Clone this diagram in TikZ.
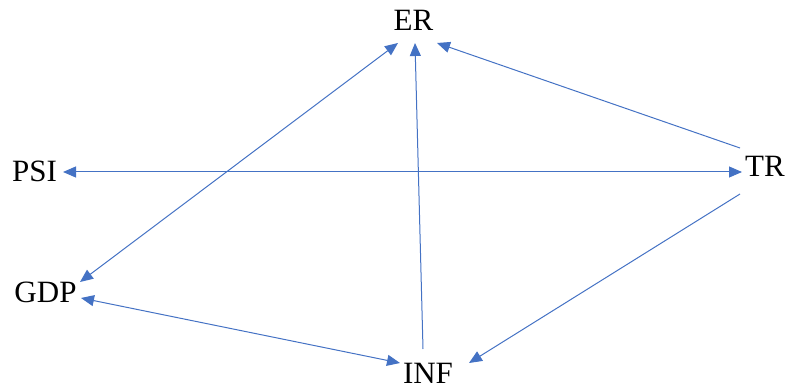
\documentclass[tikz,border=0pt]{standalone}
\usepackage{fontspec}
\setmainfont{Liberation Serif}
\usetikzlibrary{arrows.meta,calc}
\definecolor{edgeblue}{HTML}{4472C4}
\begin{document}
\begin{tikzpicture}[x=1pt,y=-1pt,
  lbl/.style={inner sep=0pt,anchor=base,font=\fontsize{31}{31}\selectfont},
  conn/.style={draw=edgeblue,line width=1pt,-{Triangle[length=13pt,width=11pt]}},
  dconn/.style={draw=edgeblue,line width=1pt,{Triangle[length=13pt,width=11pt]}-{Triangle[length=13pt,width=11pt]}}]
\useasboundingbox (0,0) rectangle (787,387);
\node[lbl] (ER) at (413.5,31) {ER};
\node[lbl] (PSI) at (34.5,182) {PSI};
\node[lbl] (GDP) at (45.5,302) {GDP};
\node[lbl] (INF) at (428,383) {INF};
\node[lbl] (TR) at (765,177) {TR};
\draw[dconn] ($(GDP.base)+(34.5,-20)$) -- ($(ER.base)+(-15.5,12)$);
\draw[conn] ($(INF.base)+(-5,-34)$) -- ($(ER.base)+(1.5,12)$);
\draw[conn] ($(TR.base)+(-25,-29)$) -- ($(ER.base)+(23.5,12)$);
\draw[dconn] ($(PSI.base)+(28.5,-10)$) -- ($(TR.base)+(-23,-5)$);
\draw[conn] ($(TR.base)+(-25,17)$) -- ($(INF.base)+(41,-20)$);
\draw[dconn] ($(GDP.base)+(35.5,-4)$) -- ($(INF.base)+(-28,-20)$);
\end{tikzpicture}
\end{document}
